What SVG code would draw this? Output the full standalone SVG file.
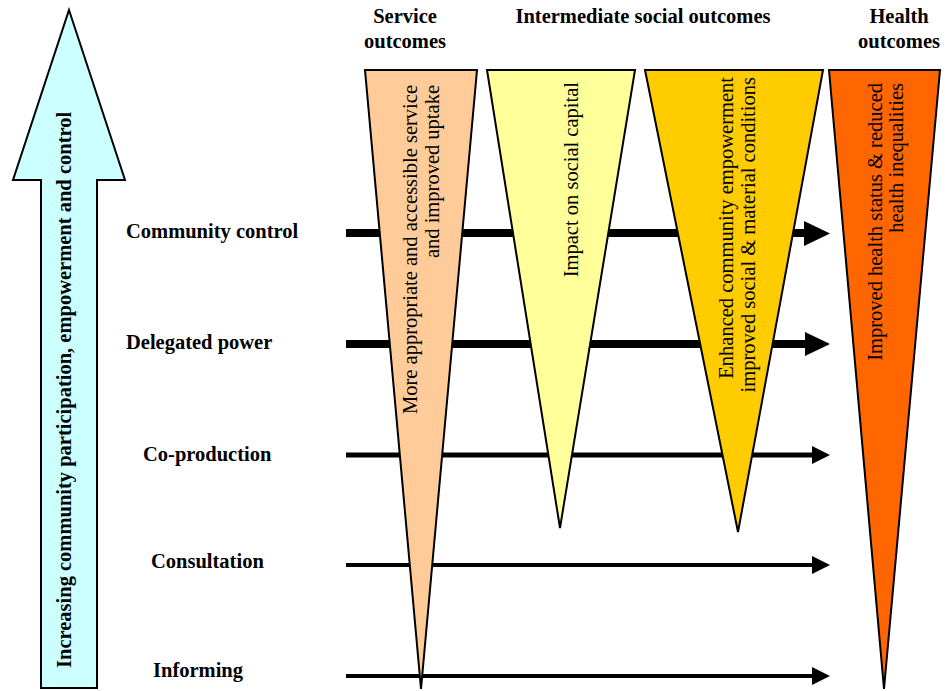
<svg xmlns="http://www.w3.org/2000/svg" width="952" height="691" viewBox="0 0 952 691">
<style>
  text { font-family: "Liberation Serif", "Times New Roman", serif; font-size: 20.5px; fill: #000; }
  .b { font-weight: bold; }
  .tri { stroke: #000; stroke-width: 2; stroke-linejoin: miter; }
  .shaft { stroke: #000; fill: none; }
  .head { fill: #000; }
</style>
<rect width="952" height="691" fill="#fff"/>

<g id="big-arrow">
  <polygon points="69,10 125,180 97,180 97,688 41,688 41,180 13,180" fill="#CCFFFF" stroke="#000" stroke-width="2"/>
  <text class="b" transform="translate(71,668) rotate(-90)">Increasing community participation, empowerment and control</text>
</g>

<g id="headers">
  <text class="b" x="405" y="23" text-anchor="middle">Service</text>
  <text class="b" x="405" y="48" text-anchor="middle">outcomes</text>
  <text class="b" x="643" y="23" text-anchor="middle">Intermediate social outcomes</text>
  <text class="b" x="899" y="23" text-anchor="middle">Health</text>
  <text class="b" x="899" y="48" text-anchor="middle">outcomes</text>
</g>

<g id="levels">
  <text class="b" x="126" y="238">Community control</text>
  <text class="b" x="126" y="349">Delegated power</text>
  <text class="b" x="143" y="461">Co-production</text>
  <text class="b" x="151" y="568">Consultation</text>
  <text class="b" x="153" y="677">Informing</text>
</g>

<g id="connectors">
  <line class="shaft" x1="346" y1="233" x2="806" y2="233" stroke-width="8"/>
  <polygon class="head" points="804,221 830,233.5 804,246"/>
  <line class="shaft" x1="346" y1="344" x2="806" y2="344" stroke-width="8"/>
  <polygon class="head" points="805,332 830,344 805,356"/>
  <line class="shaft" x1="346" y1="455" x2="814" y2="455" stroke-width="5"/>
  <polygon class="head" points="812,446 830,455 812,464"/>
  <line class="shaft" x1="346" y1="565" x2="814" y2="565" stroke-width="4"/>
  <polygon class="head" points="812,556 830,565 812,574"/>
  <line class="shaft" x1="346" y1="676" x2="814" y2="676" stroke-width="4"/>
  <polygon class="head" points="812,667 830,676 812,685"/>
</g>

<g id="service-outcomes">
  <polygon class="tri" points="365,70 477,70 421,689" fill="#FFCC99"/>
  <text transform="translate(417,85) rotate(-90)" text-anchor="end">More appropriate and accessible service</text>
  <text transform="translate(439,85) rotate(-90)" text-anchor="end">and improved uptake</text>
</g>

<g id="social-capital">
  <polygon class="tri" points="487,70 635,70 560,528" fill="#FFFF99"/>
  <text transform="translate(578,82) rotate(-90)" text-anchor="end">Impact on social capital</text>
</g>

<g id="community-empowerment">
  <polygon class="tri" points="645,70 823,70 738,532" fill="#FFCC00"/>
  <text transform="translate(733,77) rotate(-90)" text-anchor="end">Enhanced community empowerment</text>
  <text transform="translate(755,77) rotate(-90)" text-anchor="end">improved social &amp; material conditions</text>
</g>

<g id="health-outcomes">
  <polygon class="tri" points="829,70 940,70 884,689" fill="#FF6600"/>
  <text transform="translate(882,83) rotate(-90)" text-anchor="end">Improved health status &amp; reduced</text>
  <text transform="translate(903,83) rotate(-90)" text-anchor="end">health inequalities</text>
</g>
</svg>
